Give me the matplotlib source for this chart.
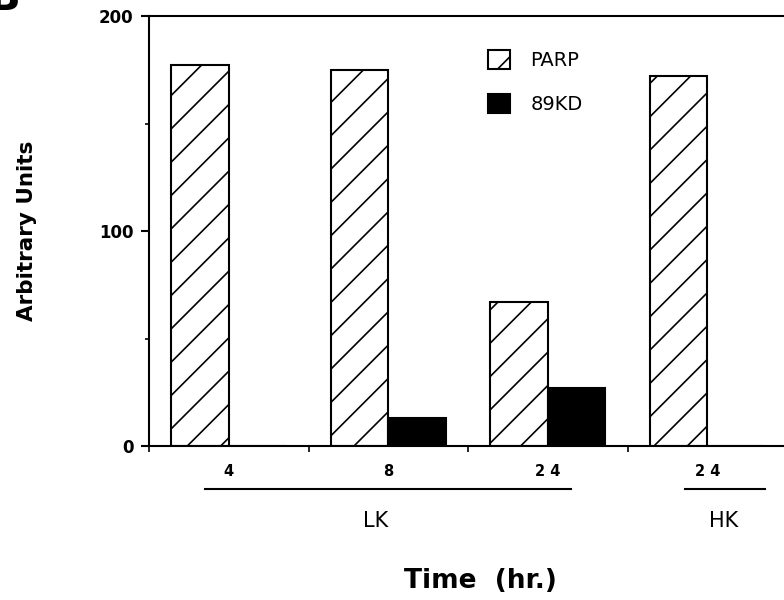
import matplotlib
matplotlib.use("Agg")
import matplotlib.pyplot as plt
import matplotlib.transforms as mtransforms
from matplotlib.ticker import FixedLocator

# data
times = ["4", "8", "2 4", "2 4"]
parp = [177, 175, 67, 172]
kd89 = [0, 13, 27, 0]
groups = ["LK", "HK"]

plt.rcParams["hatch.linewidth"] = 1.2
plt.rcParams["hatch.color"] = "black"

fig = plt.figure(figsize=(7.84, 6), dpi=100)
ax = fig.add_axes([149 / 784, 154 / 600, 638 / 784, 430 / 600])

x = list(range(len(times)))
w = 0.36
ax.bar([i - w for i in x], parp, width=w, align="edge", color="white",
       edgecolor="black", linewidth=1.5, hatch="/", label="PARP", zorder=2)
ax.bar(x, kd89, width=w, align="edge", color="black",
       edgecolor="black", linewidth=1.5, label="89KD", zorder=2)

ax.set_xlim(-0.5, 3.5)
ax.set_ylim(0, 200)

# axes styling
for s in ["left", "top", "bottom"]:
    ax.spines[s].set_linewidth(1.5)
ax.spines["right"].set_visible(False)

ax.set_yticks([0, 100, 200])
ax.set_yticklabels(["0", "100", "200"], fontsize=12, fontweight="bold")
ax.yaxis.set_minor_locator(FixedLocator([50, 150]))
ax.tick_params(axis="y", which="major", direction="out", length=6, width=1.5, pad=5)
ax.tick_params(axis="y", which="minor", direction="out", length=3, width=1.2)

ax.set_xticks(x)
ax.set_xticklabels(times, fontsize=10.5, fontweight="bold")
ax.xaxis.set_minor_locator(FixedLocator([-0.5, 0.5, 1.5, 2.5]))
ax.tick_params(axis="x", which="major", length=0, pad=13)
ax.tick_params(axis="x", which="minor", direction="out", length=4, width=1.2)

# group lines and labels under the time labels
trans = mtransforms.blended_transform_factory(ax.transData, ax.transAxes)
ax.plot([-0.147, 2.147], [-0.1, -0.1], color="black", lw=1.5,
        transform=trans, clip_on=False)
ax.plot([2.862, 3.364], [-0.1, -0.1], color="black", lw=1.5,
        transform=trans, clip_on=False)
ax.text(0.92, -0.174, groups[0], transform=trans, ha="center", va="center", fontsize=15)
ax.text(3.1, -0.174, groups[1], transform=trans, ha="center", va="center", fontsize=15)

ax.set_xlabel("Time  (hr.)", fontsize=19, fontweight="bold")
ax.xaxis.set_label_coords(0.519, -0.283)
ax.set_ylabel("Arbitrary Units", fontsize=15.5, fontweight="bold")
ax.yaxis.set_label_coords(-0.1755, 0.5)

ax.legend(loc="upper left", bbox_to_anchor=(0.531, 0.921), frameon=False,
          fontsize=14, handlelength=1.15, handleheight=1.15,
          handletextpad=1.05, labelspacing=1.2, borderpad=0, borderaxespad=0)

# panel letter, mostly cut off by the top edge
fig.text(-0.015, 0.983, "B", fontsize=30, fontweight="bold", va="baseline")

fig.savefig("out.png", dpi=100)
